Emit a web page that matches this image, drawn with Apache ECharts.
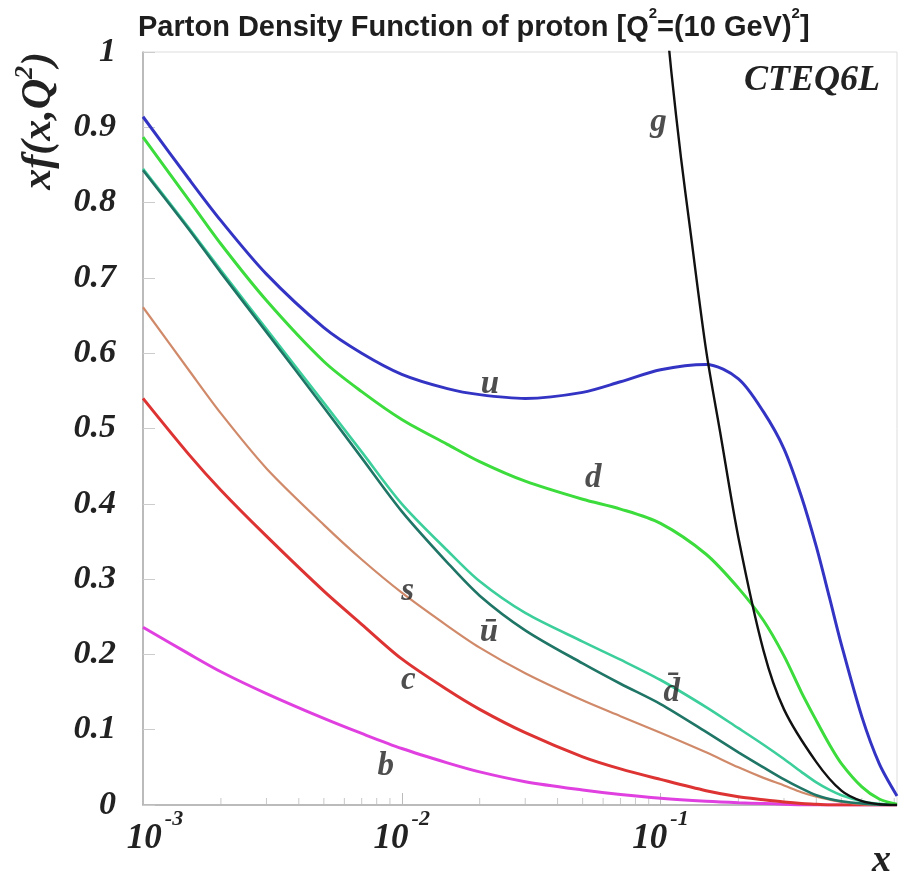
<!DOCTYPE html>
<html><head><meta charset="utf-8">
<script src="https://cdn.jsdelivr.net/npm/echarts@6/dist/echarts.min.js"></script>
<style>html,body{margin:0;padding:0;background:#fff}#c{width:900px;height:873px}</style>
</head><body><div id="c"></div>
<script>
// x sample points for quark curves
const xQuark = [0.001,0.0015,0.002,0.003,0.005,0.007,0.01,0.015,0.02,0.03,0.05,0.07,0.1,0.15,0.2,0.25,0.3,0.35,0.4,0.45,0.5,0.6,0.7,0.82];
const uVal    = [0.914,0.832,0.776,0.705,0.634,0.600,0.572,0.553,0.545,0.540,0.548,0.562,0.578,0.585,0.566,0.522,0.473,0.410,0.343,0.275,0.213,0.117,0.055,0.012];
const dVal    = [0.887,0.804,0.745,0.670,0.589,0.549,0.512,0.479,0.456,0.430,0.406,0.393,0.374,0.333,0.288,0.245,0.198,0.150,0.112,0.080,0.055,0.024,0.008,0.001];
const ubarVal = [0.843,0.765,0.707,0.628,0.528,0.461,0.390,0.322,0.278,0.232,0.188,0.161,0.134,0.097,0.070,0.050,0.034,0.022,0.013,0.008,0.005,0.002,0.0005,0.0];
const dbarVal = [0.845,0.767,0.710,0.632,0.534,0.469,0.400,0.338,0.297,0.255,0.217,0.193,0.166,0.130,0.102,0.080,0.061,0.044,0.030,0.020,0.013,0.005,0.0015,0.0];
const sVal    = [0.661,0.578,0.520,0.447,0.372,0.326,0.282,0.238,0.209,0.175,0.139,0.118,0.096,0.070,0.050,0.036,0.026,0.017,0.011,0.007,0.004,0.001,0.0,0.0];
const cVal    = [0.540,0.466,0.418,0.357,0.284,0.240,0.194,0.153,0.127,0.096,0.064,0.048,0.034,0.019,0.011,0.007,0.004,0.002,0.001,0.0,0.0,0.0,0.0,0.0];
const bVal    = [0.236,0.201,0.177,0.148,0.115,0.095,0.075,0.056,0.044,0.031,0.020,0.014,0.009,0.005,0.003,0.002,0.001,0.0,0.0,0.0,0.0,0.0,0.0,0.0];
// gluon
const xGluon = [0.09,0.1,0.11,0.12,0.13,0.15,0.17,0.2,0.25,0.3,0.4,0.5,0.6,0.7,0.82];
const gVal   = [1.288,1.122,0.975,0.859,0.766,0.604,0.495,0.355,0.205,0.127,0.057,0.019,0.005,0.001,0.0];
// axis
const xMin = 0.001, xMax = 0.82;
const xMinorTicks = [0.002,0.003,0.004,0.005,0.006,0.007,0.008,0.009,0.02,0.03,0.04,0.05,0.06,0.07,0.08,0.09,0.2,0.3,0.4,0.5,0.6,0.7,0.8];
// curve labels [x, y, text]
const curveLabels = [
  [0.0219,0.558,'u'],
  [0.055,0.433,'d'],
  [0.01054,0.283,'s'],
  [0.0217,0.229,'\u016B'],
  [0.0106,0.166,'c'],
  [0.1104,0.150,'d\u0304'],
  [0.00867,0.051,'b'],
  [0.0982,0.907,'g']
];
const titleText = 'Parton Density Function of proton';

const serif = '"Liberation Serif","DejaVu Serif",serif';
function pairs(xs, ys){ return xs.map((x,i)=>[x, ys[i]]); }
function line(name, xs, ys, color, w){
  return {name, type:'line', data:pairs(xs,ys), showSymbol:false, symbol:'none', smooth:0.3,
    lineStyle:{color, width:w}, clip:true, z:3, silent:true};
}
const chart = echarts.init(document.getElementById('c'), null, {renderer:'canvas'});
chart.setOption({
  animation:false,
  backgroundColor:'#fff',
  grid:{left:143, right:3, top:52, bottom:68, show:true, borderColor:'#ddd', borderWidth:1},
  xAxis:[{
    type:'log', min:xMin, max:xMax, logBase:10,
    axisLine:{show:true, lineStyle:{color:'#aaa', width:1.5}},
    axisTick:{show:true, inside:true, length:12, lineStyle:{color:'#bbb'}},
    splitLine:{show:false}, minorTick:{show:false},
    axisLabel:{
      margin:3, showMaxLabel:false,
      formatter:function(v){
        const l = Math.log10(v); const e = Math.round(l);
        if (Math.abs(l-e) > 1e-6) return '';
        return (e===-3 ? '{b0|10}' : '{b|10}') + '{e|' + e + '}';
      },
      rich:{
        b:{fontFamily:serif, fontWeight:'bold', fontStyle:'italic', fontSize:35, color:'#222', lineHeight:48, verticalAlign:'bottom'},
        b0:{fontFamily:serif, fontWeight:'bold', fontStyle:'italic', fontSize:35, color:'#222', lineHeight:48, verticalAlign:'bottom', padding:[0,0,0,24]},
        e:{fontFamily:serif, fontWeight:'bold', fontStyle:'italic', fontSize:22, color:'#222', lineHeight:22, verticalAlign:'top', padding:[0,0,0,3]}
      }
    }
  }],
  yAxis:{
    type:'value', min:0, max:1, interval:0.1,
    axisLine:{show:true, lineStyle:{color:'#aaa', width:1.5}},
    axisTick:{show:true, inside:true, length:12, lineStyle:{color:'#ccc'}},
    splitLine:{show:false},
    axisLabel:{margin:27, fontFamily:serif, fontWeight:'bold', fontStyle:'italic', fontSize:34, color:'#222'}
  },
  series:[
    line('b', xQuark, bVal, '#e040e0', 3),
    line('c', xQuark, cVal, '#dd3333', 3),
    line('s', xQuark, sVal, '#d08a6a', 2.2),
    line('dbar', xQuark, dbarVal, '#3ccf9c', 2.6),
    line('ubar', xQuark, ubarVal, '#1f7566', 2.6),
    line('d', xQuark, dVal, '#3ddc3d', 3),
    line('u', xQuark, uVal, '#3434c4', 3),
    line('g', xGluon, gVal, '#111111', 2.4),
    {type:'scatter', name:'minorTicks', data:xMinorTicks.map(x=>[x,0]), symbol:'rect', symbolSize:[1,7], symbolOffset:[0,-3.5],
      itemStyle:{color:'#bbb'}, silent:true, z:2},
    {type:'scatter', name:'labels', data:curveLabels.map(d=>({value:[d[0],d[1]], name:d[2]})), symbolSize:0, silent:true, z:5,
      label:{show:true, position:'inside', formatter:'{b}', fontFamily:serif, fontWeight:'bold', fontStyle:'italic', fontSize:33, color:'#222'}}
  ],
  graphic:[
    {type:'text', left:138, top:6, style:{
      text:'{t|'+titleText+' [Q}{s|2}{t|=(10 GeV)}{s|2}{t|]}',
      rich:{
        t:{fontFamily:'"Liberation Sans",Arial,sans-serif', fontWeight:'bold', fontSize:29, fill:'#1e1e1e', lineHeight:36, verticalAlign:'bottom'},
        s:{fontFamily:'"Liberation Sans",Arial,sans-serif', fontWeight:'bold', fontSize:15, fill:'#1e1e1e', lineHeight:15, verticalAlign:'top'}
      }}},
    {type:'text', right:20, top:63, style:{text:'CTEQ6L', fontFamily:serif, fontWeight:'bold', fontStyle:'italic', fontSize:36, fill:'#222'}},
    {type:'text', left:872, top:842, style:{text:'x', fontFamily:serif, fontWeight:'bold', fontStyle:'italic', fontSize:38, fill:'#222'}},
    {type:'text', left:12, top:52, rotation:Math.PI/2, originX:0, originY:0,
      style:{text:'{t|xf(x,Q}{s|2}{t|)}',
        rich:{
          t:{fontFamily:serif, fontWeight:'bold', fontStyle:'italic', fontSize:42, fill:'#222', lineHeight:48, verticalAlign:'bottom'},
          s:{fontFamily:serif, fontWeight:'bold', fontStyle:'italic', fontSize:26, fill:'#222', lineHeight:26, verticalAlign:'top'}
        }}}
  ]
});
</script></body></html>
